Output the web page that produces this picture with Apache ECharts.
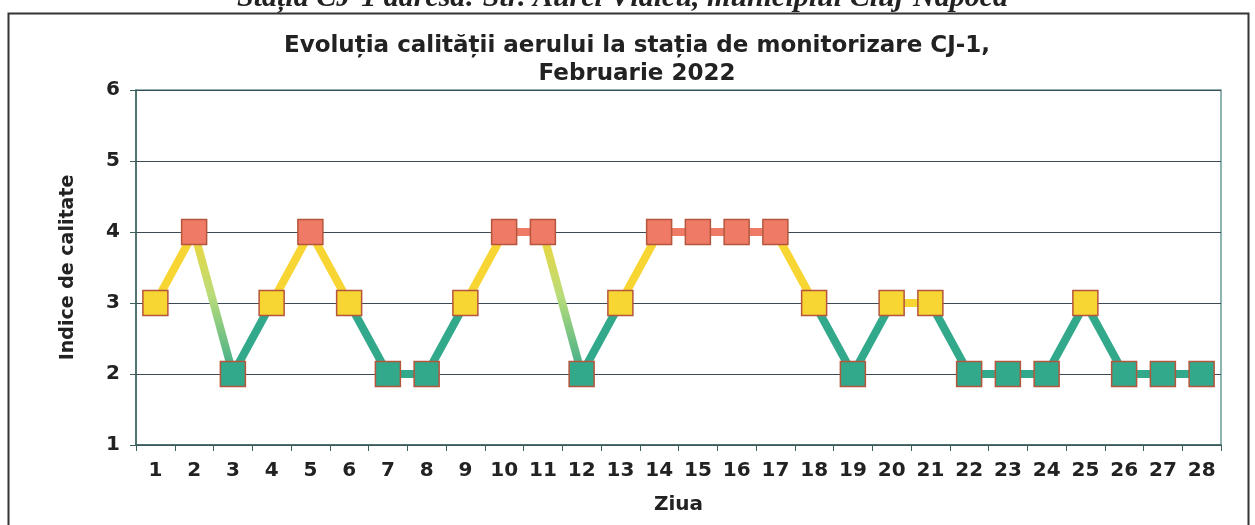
<!DOCTYPE html>
<html>
<head>
<meta charset="utf-8">
<script src="https://cdn.jsdelivr.net/npm/echarts@6/dist/echarts.min.js"></script>
<style>
  html, body { margin: 0; padding: 0; background: #fff; }
  #chart { width: 1255px; height: 525px; }
</style>
</head>
<body>
<div id="chart"></div>
<script>
// zilele lunii si indicele de calitate
var zile = ["1","2","3","4","5","6","7","8","9","10","11","12","13","14",
            "15","16","17","18","19","20","21","22","23","24","25","26","27","28"];
var indice = [3,4,2,3,4,3,2,2,3,4,4,2,3,4,4,4,4,3,2,3,3,2,2,2,3,2,2,2];

var verde = "#33a98c";
var galben = "#f7d532";
var rosu = "#ef7b66";
var font = "DejaVu Sans";

var chart = echarts.init(document.getElementById("chart"));

function culoarePunct(v) {
  if (v >= 4) return rosu;
  if (v >= 3) return galben;
  return verde;
}

// fiecare segment are culoarea lui, ca in original
function culoareSegment(a, b) {
  var lo = Math.min(a, b), hi = Math.max(a, b);
  if (lo === 2 && hi === 4) {
    return new echarts.graphic.LinearGradient(0, 0, 0, 1, [
      { offset: 0, color: galben },
      { offset: 0.45, color: "#b9dc7a" },
      { offset: 1, color: verde }
    ]);
  }
  if (lo === 2) return verde;
  if (lo === 4) return rosu;
  return galben;
}

var series = [];
for (var i = 0; i < indice.length - 1; i++) {
  var d = [];
  for (var j = 0; j < indice.length; j++) {
    d.push(j === i || j === i + 1 ? indice[j] : null);
  }
  series.push({
    type: "line",
    data: d,
    showSymbol: false,
    silent: true,
    z: 3,
    lineStyle: { width: 8, color: culoareSegment(indice[i], indice[i + 1]) }
  });
}
series.push({
  type: "scatter",
  data: indice,
  symbol: "rect",
  symbolSize: 25,
  z: 5,
  itemStyle: {
    color: function (p) { return culoarePunct(p.value); },
    borderColor: "#b5553c",
    borderWidth: 1.5,
    opacity: 1
  }
});

chart.setOption({
  animation: false,
  title: {
    text: "Evoluția calității aerului la stația de monitorizare CJ-1,\nFebruarie 2022",
    left: 632,
    textAlign: "center",
    top: 27,
    textStyle: {
      fontFamily: font,
      fontWeight: "bold",
      fontSize: 23,
      lineHeight: 28,
      color: "#222"
    }
  },
  graphic: [
    {
      type: "text",
      left: 237,
      top: -17,
      style: {
        text: "Stația CJ-1 adresa: Str. Aurel Vlaicu, municipiul Cluj-Napoca",
        font: "italic bold 30px 'Liberation Serif'",
        fill: "#222"
      }
    },
    {
      type: "rect",
      shape: { x: 8.5, y: 13.5, width: 1240, height: 530 },
      style: { fill: "none", stroke: "#333", lineWidth: 2 },
      z: -1
    }
  ],
  grid: {
    left: 136,
    right: 34,
    top: 90,
    bottom: 80,
    show: true,
    borderColor: "#6f9c98",
    borderWidth: 1.5
  },
  xAxis: {
    type: "category",
    data: zile,
    boundaryGap: true,
    name: "Ziua",
    nameLocation: "middle",
    nameGap: 50,
    nameTextStyle: { fontFamily: font, fontWeight: "bold", fontSize: 20, color: "#222" },
    axisLine: { lineStyle: { color: "#3d5f5c", width: 1.5 } },
    axisTick: { show: true, inside: false, length: 6, lineStyle: { color: "#3d5f5c" } },
    axisLabel: { fontFamily: font, fontWeight: "bold", fontSize: 20, color: "#222", margin: 16 },
    splitLine: { show: false }
  },
  yAxis: {
    type: "value",
    min: 1,
    max: 6,
    interval: 1,
    name: "Indice de calitate",
    nameLocation: "middle",
    nameGap: 58,
    nameTextStyle: { fontFamily: font, fontWeight: "bold", fontSize: 19, color: "#222" },
    axisLine: { show: true, lineStyle: { color: "#3d5f5c", width: 1.5 } },
    axisTick: { show: true, length: 6, lineStyle: { color: "#3d5f5c" } },
    axisLabel: { fontFamily: font, fontWeight: "bold", fontSize: 20, color: "#222", margin: 16 },
    splitLine: { show: true, lineStyle: { color: "#3b4a55", width: 1.2 } }
  },
  series: series
});
</script>
</body>
</html>
